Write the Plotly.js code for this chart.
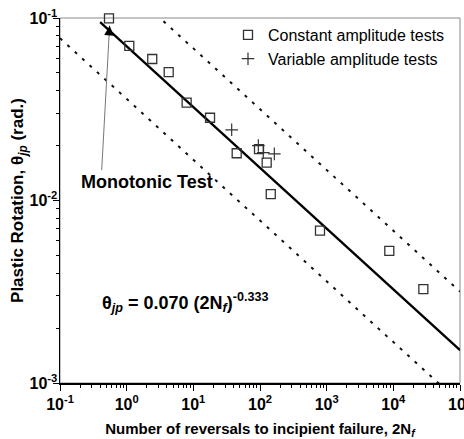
<!DOCTYPE html>
<html>
<head>
<meta charset="utf-8">
<script src="https://cdn.plot.ly/plotly-3.0.1.min.js"></script>
<style>html,body{margin:0;padding:0;background:#fff;}#chart{width:464px;height:439px;}</style>
</head>
<body>
<div id="chart"></div>
<script>
// Constant amplitude tests (squares)
const constN = [0.543, 1.095, 2.42, 4.27, 7.94, 17.8, 44.7, 96.6, 126, 145, 794, 8700, 28200];
const constTheta = [0.0995, 0.0703, 0.0596, 0.0505, 0.0344, 0.0284, 0.01815, 0.0191, 0.01614, 0.01083, 0.00684, 0.0053, 0.00327];
// Variable amplitude tests (plus)
const varN = [37.6, 94.4, 112, 164];
const varTheta = [0.0244, 0.0200, 0.0183, 0.0180];
// Fit: theta = A (2Nf)^B, and the dotted bounds
const fitA = 0.070;
const fitB = -0.333;
const upperA = 0.1467;
const lowerA = 0.0360;
const fitN = [0.4, 100000];
const boundN = [0.1, 100000];
// Monotonic test point (arrow tip)
const monoN = 0.555;
const monoTheta = 0.0908;
// Tick labels
const xTickVals = [0.1, 1, 10, 100, 1000, 10000, 100000];
const xTickText = ['<b>10<sup>-1</sup></b>', '<b>10<sup>0</sup></b>', '<b>10<sup>1</sup></b>', '<b>10<sup>2</sup></b>', '<b>10<sup>3</sup></b>', '<b>10<sup>4</sup></b>', '<b>10<sup>5</sup></b>'];
const yTickVals = [0.001, 0.01, 0.1];
const yTickText = ['<b>10<sup>-3</sup></b>', '<b>10<sup>-2</sup></b>', '<b>10<sup>-1</sup></b>'];

const law = (a, n) => n.map(v => a * Math.pow(v, fitB));
const FONT = 'Arial, "Liberation Sans", sans-serif';

const traces = [
  {x: boundN, y: law(upperA, boundN), mode: 'lines', showlegend: false, hoverinfo: 'skip',
   line: {color: '#111', width: 2, dash: '3px,7px'}},
  {x: boundN, y: law(lowerA, boundN), mode: 'lines', showlegend: false, hoverinfo: 'skip',
   line: {color: '#111', width: 2, dash: '3px,7px'}},
  {x: fitN, y: law(fitA, fitN), mode: 'lines', showlegend: false, hoverinfo: 'skip',
   line: {color: '#000', width: 2.3}},
  {x: constN, y: constTheta, mode: 'markers', name: 'Constant amplitude tests', cliponaxis: false,
   marker: {symbol: 'square-open', size: 9, color: '#333', line: {width: 1.3, color: '#333'}}},
  {x: varN, y: varTheta, mode: 'markers', name: 'Variable amplitude tests', cliponaxis: false,
   marker: {symbol: 'cross-thin', size: 9, color: '#333', line: {width: 1.2, color: '#333'}}}
];

const layout = {
  width: 464, height: 439,
  margin: {l: 60, r: 4, t: 18, b: 56},
  paper_bgcolor: '#fff', plot_bgcolor: '#fff',
  font: {family: FONT, color: '#000'},
  showlegend: true,
  legend: {x: 0.42, y: 1, xanchor: 'left', yanchor: 'top', bgcolor: 'rgba(0,0,0,0)',
           font: {size: 16, family: FONT, color: '#000'}, tracegroupgap: 0, itemwidth: 30},
  xaxis: {
    type: 'log', range: [-1, 5], showgrid: false, zeroline: false,
    showline: true, linecolor: '#000', linewidth: 1.5,
    ticks: 'outside', ticklen: 6, tickwidth: 1, tickcolor: '#000',
    tickmode: 'array', tickvals: xTickVals, ticktext: xTickText,
    ticklabeloverflow: 'allow',
    tickfont: {size: 16, family: FONT, color: '#000', weight: 'bold'},
    minor: {ticks: 'outside', ticklen: 3, tickwidth: 1, tickcolor: '#000', dtick: 'D1', showgrid: false},
    title: {text: 'Number of reversals to incipient failure, 2N<sub><i>f</i></sub>', standoff: 14,
            font: {size: 15, family: FONT, color: '#000', weight: 'bold'}}
  },
  yaxis: {
    type: 'log', range: [-3, -1], showgrid: false, zeroline: false,
    showline: true, linecolor: '#000', linewidth: 1.5,
    ticks: 'outside', ticklen: 6, tickwidth: 1, tickcolor: '#000',
    tickmode: 'array', tickvals: yTickVals, ticktext: yTickText,
    ticklabelstandoff: -8, ticklabeloverflow: 'allow',
    tickfont: {size: 16, family: FONT, color: '#000', weight: 'bold'},
    minor: {ticks: 'outside', ticklen: 3, tickwidth: 1, tickcolor: '#000', dtick: 'D1', showgrid: false},
    title: {text: 'Plastic Rotation, θ<sub><i>jp</i></sub> (rad.)', standoff: 0,
            font: {size: 17, family: FONT, color: '#000', weight: 'bold'}}
  },
  shapes: [
    {type: 'rect', xref: 'paper', yref: 'paper', x0: 0, x1: 1, y0: 0, y1: 1,
     line: {color: '#888', width: 1}, layer: 'below'}
  ],
  annotations: [
    {xref: 'x', yref: 'y', x: Math.log10(monoN), y: Math.log10(monoTheta), text: '',
     showarrow: true, arrowhead: 0, arrowwidth: 1, arrowcolor: '#777', ax: -8, ay: 146, standoff: 0},
    {xref: 'x', yref: 'y', x: Math.log10(monoN), y: Math.log10(monoTheta), text: '',
     showarrow: true, arrowhead: 2, arrowsize: 1.3, arrowwidth: 1.5, arrowcolor: '#000', ax: -0.6, ay: 11, standoff: 0},
    {xref: 'paper', yref: 'paper', x: (147 - 60) / 400, y: (383 - 182) / 365, xanchor: 'center', yanchor: 'middle',
     showarrow: false, text: 'Monotonic Test', font: {size: 18, family: FONT, color: '#000', weight: 'bold'}},
    {xref: 'paper', yref: 'paper', x: (100 - 60) / 400, y: (383 - 302) / 365, xanchor: 'left', yanchor: 'middle',
     showarrow: false, text: 'θ<sub><i>jp</i></sub> = 0.070 (2N<sub><i>f</i></sub>)<sup>-0.333</sup>',
     font: {size: 18, family: FONT, color: '#000', weight: 'bold'}}
  ]
};

Plotly.newPlot('chart', traces, layout, {displayModeBar: false, staticPlot: true});
</script>
</body>
</html>
